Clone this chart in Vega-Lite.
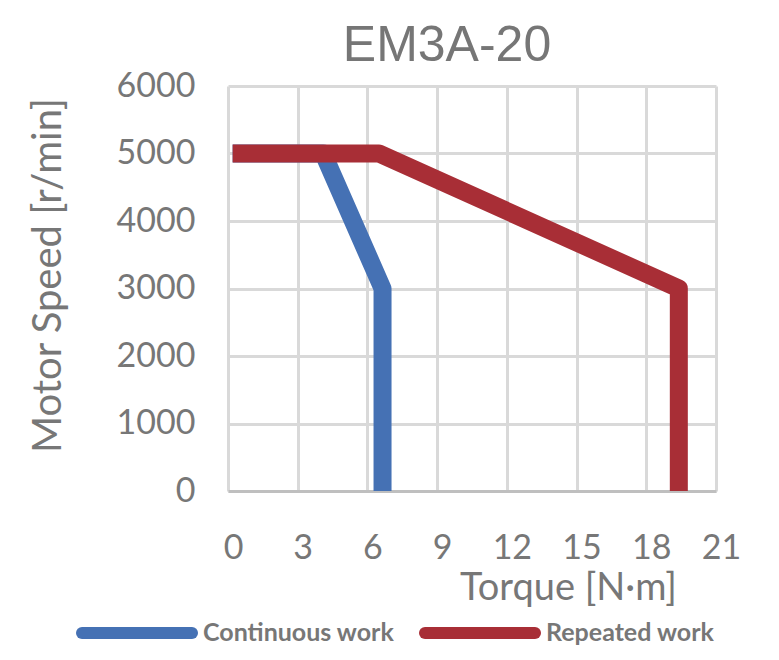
{
  "$schema": "https://vega.github.io/schema/vega-lite/v6.json",
  "autosize": {"type": "none"},
  "width": 488,
  "height": 405,
  "padding": {"left": 228, "top": 86, "right": 63, "bottom": 169},
  "background": "white",
  "config": {
    "view": {"stroke": null},
    "font": "Lato"
  },
  "title": {
    "text": "EM3A-20",
    "font": "Liberation Sans",
    "fontSize": 50,
    "fontWeight": "normal",
    "color": "#767676",
    "anchor": "middle",
    "frame": "group",
    "dx": -25,
    "dy": 42,
    "baseline": "alphabetic",
    "offset": 0
  },
  "data": {
    "values": [
      {"series": "Continuous work", "i": 0, "torque": 0.2, "speed": 5000},
      {"series": "Continuous work", "i": 1, "torque": 4.1, "speed": 5000},
      {"series": "Continuous work", "i": 2, "torque": 6.65, "speed": 3000},
      {"series": "Continuous work", "i": 3, "torque": 6.65, "speed": 0},
      {"series": "Repeated work", "i": 0, "torque": 0.2, "speed": 5000},
      {"series": "Repeated work", "i": 1, "torque": 6.5, "speed": 5000},
      {"series": "Repeated work", "i": 2, "torque": 19.4, "speed": 3000},
      {"series": "Repeated work", "i": 3, "torque": 19.4, "speed": 0}
    ]
  },
  "mark": {"type": "line", "strokeWidth": 18, "strokeJoin": "round", "strokeCap": "butt", "clip": false},
  "encoding": {
    "x": {
      "field": "torque",
      "type": "quantitative",
      "scale": {"domain": [0, 21], "nice": false},
      "axis": {
        "values": [0, 3, 6, 9, 12, 15, 18, 21],
        "title": "Torque [N·m]",
        "titleFont": "Lato",
        "titleFontSize": 38,
        "titleFontWeight": "normal",
        "titleColor": "#777777",
        "titleX": 340,
        "titleY": 108,
        "titleAlign": "center",
        "titleBaseline": "alphabetic",
        "labelFont": "Lato",
        "labelFontSize": 34,
        "labelColor": "#777777",
        "labelPadding": 40,
        "labelOffset": 5,
        "labelBaseline": "top",
        "labelFlush": false,
        "labelOverlap": false,
        "ticks": false,
        "tickSize": 0,
        "grid": true,
        "gridColor": "#d9d9d9",
        "gridWidth": 3,
        "domainColor": "#bfbfbf",
        "domainWidth": 3
      }
    },
    "y": {
      "field": "speed",
      "type": "quantitative",
      "scale": {"domain": [0, 6000], "nice": false},
      "axis": {
        "values": [0, 1000, 2000, 3000, 4000, 5000, 6000],
        "format": "d",
        "title": "Motor Speed [r/min]",
        "titleFont": "Lato",
        "titleFontSize": 40,
        "titleFontWeight": "normal",
        "titleColor": "#777777",
        "titleAngle": -90,
        "titleX": -180,
        "titleY": 189,
        "titleAlign": "center",
        "titleBaseline": "middle",
        "labelFont": "Lato",
        "labelFontSize": 34,
        "labelColor": "#777777",
        "labelPadding": 33,
        "labelFlush": false,
        "labelOverlap": false,
        "ticks": false,
        "tickSize": 0,
        "grid": true,
        "gridColor": "#d9d9d9",
        "gridWidth": 3,
        "domain": false
      }
    },
    "color": {
      "field": "series",
      "type": "nominal",
      "scale": {"domain": ["Continuous work", "Repeated work"], "range": ["#4571b4", "#a82e36"]},
      "legend": {
        "title": null,
        "orient": "none",
        "direction": "horizontal",
        "legendX": -152,
        "legendY": 486,
        "padding": 0,
        "symbolType": "stroke",
        "symbolSize": 12100,
        "symbolStrokeWidth": 12,
        "labelFont": "Lato",
        "labelFontSize": 25,
        "labelFontWeight": "bold",
        "labelColor": "#777777",
        "labelOffset": 5,
        "columnPadding": 6,
        "labelLimit": 400,
        "encode": {
          "symbols": {"update": {"strokeCap": {"value": "round"}}}
        }
      }
    },
    "order": {"field": "i", "type": "quantitative"}
  }
}
